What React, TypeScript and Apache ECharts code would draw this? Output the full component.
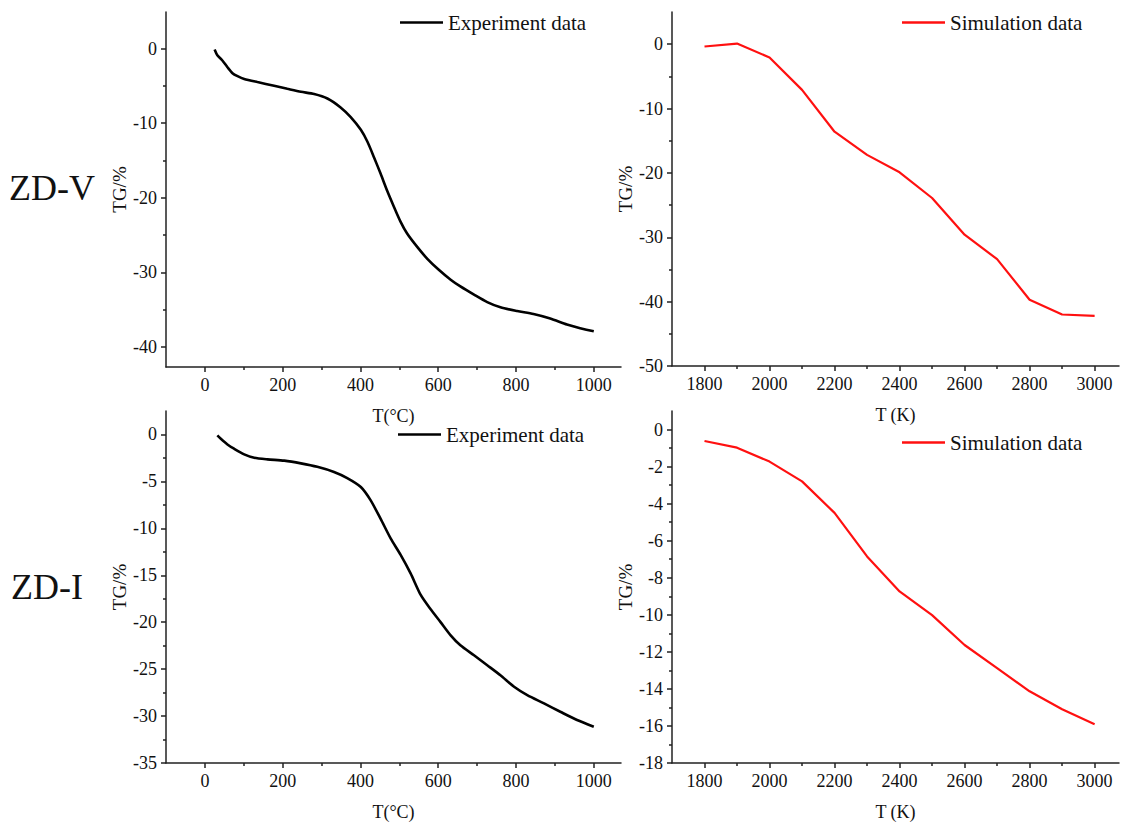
import React, { useEffect, useRef } from "react";
import * as echarts from "echarts";

// ---- data ----
const expX1 = [25, 32, 45, 58, 71, 84, 101, 135, 178, 212, 247, 281, 315, 349, 375, 401, 418, 435, 452, 469, 486, 503, 520, 546, 572, 600, 632, 657, 692, 726, 760, 803, 845, 888, 931, 965, 1000];
const expY1 = [-0.13, -0.9, -1.6, -2.5, -3.3, -3.7, -4.07, -4.5, -5.0, -5.4, -5.8, -6.1, -6.7, -7.9, -9.2, -10.9, -12.5, -14.6, -16.8, -19.1, -21.2, -23.2, -24.8, -26.6, -28.2, -29.6, -31.0, -31.9, -33.0, -34.0, -34.7, -35.2, -35.6, -36.2, -37.0, -37.5, -37.9];

const expX2 = [32, 41, 58, 75, 101, 127, 161, 204, 247, 289, 332, 366, 401, 426, 452, 478, 503, 529, 555, 580, 606, 632, 657, 692, 726, 760, 795, 829, 872, 914, 957, 1000];
const expY2 = [-0.1, -0.46, -1.06, -1.52, -2.12, -2.48, -2.65, -2.79, -3.08, -3.45, -4.0, -4.65, -5.6, -7.0, -9.0, -11.1, -12.8, -14.8, -17.1, -18.6, -19.99, -21.4, -22.46, -23.52, -24.58, -25.65, -26.88, -27.77, -28.65, -29.54, -30.42, -31.13];

const simX = [1800, 1900, 2000, 2100, 2200, 2300, 2400, 2500, 2600, 2700, 2800, 2900, 3000];
const simY1 = [-0.36, 0.1, -2.07, -7.1, -13.6, -17.2, -19.9, -23.9, -29.6, -33.4, -39.7, -42.0, -42.2];
const simY2 = [-0.62, -0.98, -1.73, -2.8, -4.5, -6.85, -8.74, -10.02, -11.63, -12.88, -14.13, -15.1, -15.91];

// tick labels
const xTicksC = [0, 200, 400, 600, 800, 1000];
const xMinorC = [100, 300, 500, 700, 900];
const xTicksK = [1800, 2000, 2200, 2400, 2600, 2800, 3000];
const xMinorK = [1900, 2100, 2300, 2500, 2700, 2900];
const yTicksTL = [0, -10, -20, -30, -40];
const yMinorTL = [-5, -15, -25, -35];
const yTicksTR = [0, -10, -20, -30, -40, -50];
const yMinorTR = [-5, -15, -25, -35, -45];
const yTicksBL = [0, -5, -10, -15, -20, -25, -30, -35];
const yMinorBL = [-2.5, -7.5, -12.5, -17.5, -22.5, -27.5, -32.5];
const yTicksBR = [0, -2, -4, -6, -8, -10, -12, -14, -16, -18];
const yMinorBR = [-1, -3, -5, -7, -9, -11, -13, -15, -17];

const FONT = "Liberation Serif";
const AXIS_COLOR = "#222";
const TEXT_COLOR = "#111";

function zip(xs: number[], ys: number[]) {
  return xs.map((x, i) => [x, ys[i]]);
}
const plain = (v: number) => String(v);

function mainX(grid: number, min: number, max: number, ticks: number[], name: string) {
  return {
    type: "value",
    gridIndex: grid,
    position: "bottom",
    min,
    max,
    name,
    nameLocation: "middle",
    nameGap: 40,
    nameTextStyle: { fontFamily: FONT, fontSize: 18, color: TEXT_COLOR },
    splitLine: { show: false },
    axisLine: { show: true, onZero: false, lineStyle: { color: AXIS_COLOR, width: 1.5 } },
    axisTick: { show: true, length: 5, customValues: ticks, lineStyle: { color: AXIS_COLOR, width: 1.5 } },
    axisLabel: { customValues: ticks, formatter: plain, margin: 9, fontFamily: FONT, fontSize: 18, color: TEXT_COLOR },
  };
}
function minorX(grid: number, min: number, max: number, ticks: number[]) {
  return {
    type: "value",
    gridIndex: grid,
    position: "bottom",
    min,
    max,
    splitLine: { show: false },
    axisLine: { show: false, onZero: false },
    axisTick: { show: true, length: 3, customValues: ticks, lineStyle: { color: AXIS_COLOR, width: 1.5 } },
    axisLabel: { show: false },
  };
}
function mainY(grid: number, min: number, max: number, ticks: number[], gap: number) {
  return {
    type: "value",
    gridIndex: grid,
    position: "left",
    min,
    max,
    name: "TG/%",
    nameLocation: "middle",
    nameGap: gap,
    nameRotate: 90,
    nameTextStyle: { fontFamily: FONT, fontSize: 19, color: TEXT_COLOR },
    splitLine: { show: false },
    axisLine: { show: true, onZero: false, lineStyle: { color: AXIS_COLOR, width: 1.5 } },
    axisTick: { show: true, length: 5, customValues: ticks, lineStyle: { color: AXIS_COLOR, width: 1.5 } },
    axisLabel: { customValues: ticks, formatter: plain, margin: 9, fontFamily: FONT, fontSize: 18, color: TEXT_COLOR },
  };
}
function minorY(grid: number, min: number, max: number, ticks: number[]) {
  return {
    type: "value",
    gridIndex: grid,
    position: "left",
    min,
    max,
    splitLine: { show: false },
    axisLine: { show: false, onZero: false },
    axisTick: { show: true, length: 3, customValues: ticks, lineStyle: { color: AXIS_COLOR, width: 1.5 } },
    axisLabel: { show: false },
  };
}
function legend(name: string, left: number, top: number) {
  return {
    data: [name],
    left,
    top,
    padding: 0,
    orient: "horizontal",
    icon: "rect",
    itemWidth: 43,
    itemHeight: 2.6,
    selectedMode: false,
    textStyle: { fontFamily: FONT, fontSize: 21, color: TEXT_COLOR },
  };
}

export default function App() {
  const ref = useRef<HTMLDivElement>(null);
  useEffect(() => {
    if (!ref.current) return;
    const chart = echarts.init(ref.current, undefined, { renderer: "svg" });
    const option = {
      animation: false,
      backgroundColor: "#ffffff",
      grid: [
        { left: 166, top: 12, width: 455, height: 355 },
        { left: 672, top: 12, width: 447, height: 354 },
        { left: 166, top: 411, width: 455, height: 355 },
        { left: 672, top: 411, width: 447, height: 355 },
      ],
      xAxis: [
        mainX(0, -100, 1070, xTicksC, "T(°C)"),
        mainX(1, 1700, 3075, xTicksK, "T (K)"),
        mainX(2, -100, 1070, xTicksC, "T(°C)"),
        mainX(3, 1700, 3075, xTicksK, "T (K)"),
        minorX(0, -100, 1070, xMinorC),
        minorX(1, 1700, 3075, xMinorK),
        minorX(2, -100, 1070, xMinorC),
        minorX(3, 1700, 3075, xMinorK),
      ],
      yAxis: [
        mainY(0, -42.7, 4.9, yTicksTL, 37),
        mainY(1, -50, 5, yTicksTR, 33),
        mainY(2, -35, 2.5, yTicksBL, 37),
        mainY(3, -18, 1, yTicksBR, 33),
        minorY(0, -42.7, 4.9, yMinorTL),
        minorY(1, -50, 5, yMinorTR),
        minorY(2, -35, 2.5, yMinorBL),
        minorY(3, -18, 1, yMinorBR),
      ],
      legend: [
        legend("Experiment data", 400, 12),
        legend("Simulation data", 902, 12),
        legend("Experiment data ", 398, 424),
        legend("Simulation data ", 902, 432),
      ],
      series: [
        {
          type: "line",
          name: "Experiment data",
          xAxisIndex: 0,
          yAxisIndex: 0,
          data: zip(expX1, expY1),
          symbol: "none",
          smooth: 0.25,
          lineStyle: { color: "#000", width: 2.6 },
          itemStyle: { color: "#000" },
        },
        {
          type: "line",
          name: "Simulation data",
          xAxisIndex: 1,
          yAxisIndex: 1,
          data: zip(simX, simY1),
          symbol: "none",
          lineStyle: { color: "#ff1010", width: 2.2 },
          itemStyle: { color: "#ff1010" },
        },
        {
          type: "line",
          name: "Experiment data ",
          xAxisIndex: 2,
          yAxisIndex: 2,
          data: zip(expX2, expY2),
          symbol: "none",
          smooth: 0.25,
          lineStyle: { color: "#000", width: 2.6 },
          itemStyle: { color: "#000" },
        },
        {
          type: "line",
          name: "Simulation data ",
          xAxisIndex: 3,
          yAxisIndex: 3,
          data: zip(simX, simY2),
          symbol: "none",
          lineStyle: { color: "#ff1010", width: 2.2 },
          itemStyle: { color: "#ff1010" },
        },
      ],
      graphic: [
        {
          type: "text",
          left: 9,
          top: 170,
          style: { text: "ZD-V", fontFamily: FONT, fontSize: 36, fill: "#111" },
        },
        {
          type: "text",
          left: 11,
          top: 569,
          style: { text: "ZD-I", fontFamily: FONT, fontSize: 36, fill: "#111" },
        },
      ],
    };
    chart.setOption(option as any);
    return () => chart.dispose();
  }, []);
  return (
    <div
      ref={ref}
      style={{ position: "absolute", left: 0, top: 0, width: 1137, height: 822, background: "#fff" }}
    />
  );
}
